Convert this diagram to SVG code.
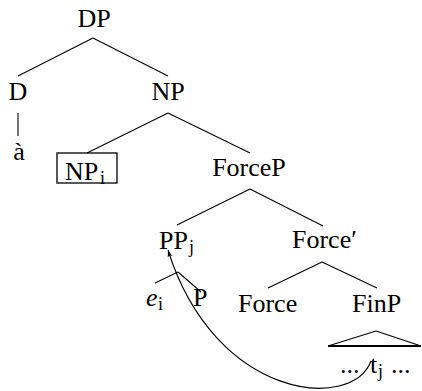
<svg xmlns="http://www.w3.org/2000/svg" width="422" height="391" viewBox="0 0 422 391">
<defs>
<style>
text{font-family:"Liberation Serif","Times New Roman",serif;font-size:26px;fill:#000}
.sub{font-size:18px}
.it{font-style:italic}
.edge{stroke:#000;stroke-width:1.1;fill:none}
</style>
<marker id="arr" viewBox="0 0 10 10" refX="10" refY="5" markerWidth="7" markerHeight="7" markerUnits="userSpaceOnUse" orient="auto">
<path d="M0,1.5 L10,5 L0,8.5 L2,5 Z" fill="#000"/>
</marker>
</defs>
<rect width="422" height="391" fill="#fff"/>
<g id="connectors">
<line class="edge" x1="93" y1="38" x2="18" y2="76"/>
<line class="edge" x1="93" y1="38" x2="168" y2="76"/>
<line class="edge" x1="18" y1="113" x2="18" y2="136"/>
<line class="edge" x1="168" y1="113" x2="87" y2="153"/>
<line class="edge" x1="168" y1="113" x2="250" y2="153"/>
<line class="edge" x1="250" y1="189" x2="177" y2="225"/>
<line class="edge" x1="250" y1="189" x2="323" y2="226"/>
<line class="edge" x1="178" y1="272" x2="155" y2="283"/>
<line class="edge" x1="178" y1="272" x2="201" y2="292"/>
<line class="edge" x1="322" y1="262" x2="268" y2="288"/>
<line class="edge" x1="322" y1="262" x2="377" y2="288"/>
<path class="edge" d="M371,361 C352,412 215,400 168,250" marker-end="url(#arr)"/>
</g>
<g id="DP"><text x="94" y="27" text-anchor="middle">DP</text></g>
<g id="D"><text x="18" y="100" text-anchor="middle">D</text></g>
<g id="NP"><text x="168" y="100" text-anchor="middle">NP</text></g>
<g id="a"><text x="19" y="160" text-anchor="middle">à</text></g>
<g id="NPi">
<rect x="57" y="153" width="60" height="30" fill="none" stroke="#000" stroke-width="1.3"/>
<text x="65" y="180">NP</text><text class="sub" x="100" y="184">i</text>
</g>
<g id="ForceP"><text x="249" y="176" text-anchor="middle">ForceP</text></g>
<g id="PPj"><text x="159" y="249">PP</text><text class="sub" x="189" y="253">j</text></g>
<g id="ForceBar"><text x="292" y="248">Force′</text></g>
<g id="ei"><text class="it" x="146" y="306">e</text><text class="sub" x="158" y="310">i</text></g>
<g id="P"><text x="193" y="306">P</text></g>
<g id="Force"><text x="238" y="312">Force</text></g>
<g id="FinP"><text x="352" y="312">FinP</text></g>
<g id="FinPtri">
<path d="M376,331 L328,346" class="edge"/>
<path d="M376,331 L421,346" class="edge"/>
<line x1="328" y1="346" x2="421" y2="346" stroke="#000" stroke-width="1.8"/>
<text x="340" y="373">...</text><text x="370" y="373">t</text><text class="sub" x="378" y="377">j</text><text x="391" y="373">...</text>
</g>
</svg>
